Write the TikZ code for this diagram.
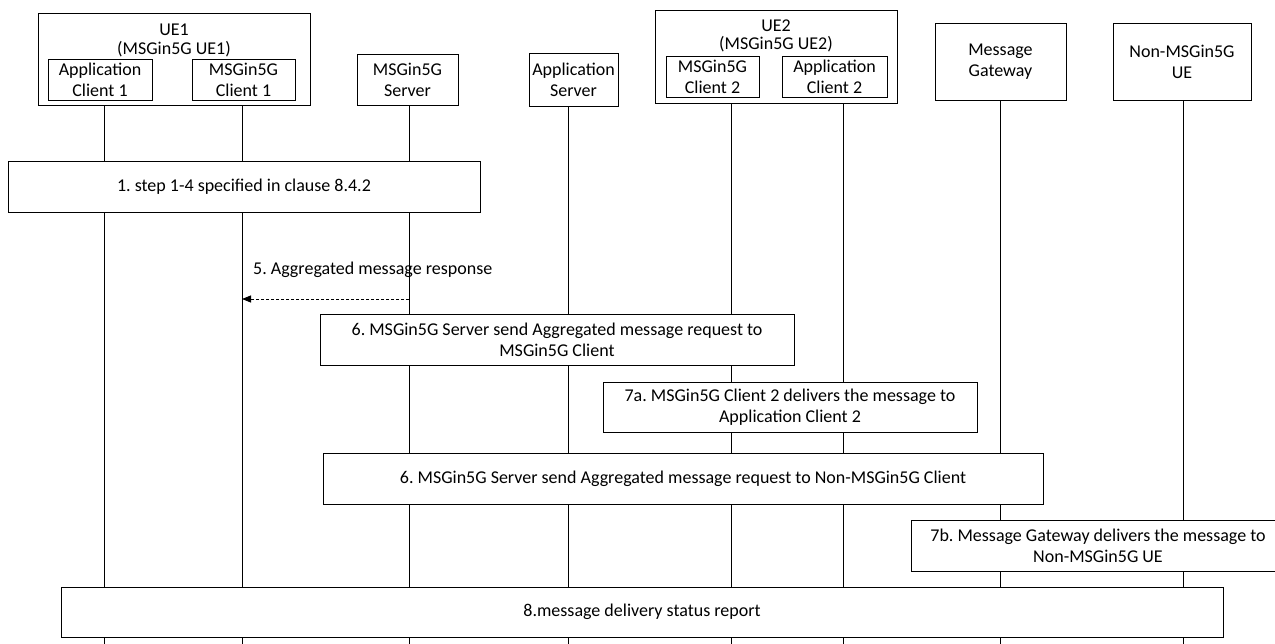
\documentclass[tikz,border=0pt]{standalone}
\usepackage{fontspec}
\setmainfont{Carlito}
\usetikzlibrary{arrows.meta}
\begin{document}
\frenchspacing
\begin{tikzpicture}[x=1pt,y=-1pt,
  txt/.style={font=\fontsize{18}{21}\selectfont, align=center, inner sep=0pt},
  box/.style={txt, draw, line width=0.9pt, fill=white},
  life/.style={line width=0.9pt},
  msg/.style={line width=0.8pt, dash pattern=on 3pt off 2pt, -{Triangle[length=9pt,width=7pt]}}]
\useasboundingbox (0,0) rectangle (1275,644);
% lifeline ends
\coordinate (e1) at (104,644);
\coordinate (e2) at (242,644);
\coordinate (e3) at (409,644);
\coordinate (e4) at (568,644);
\coordinate (e5) at (731,644);
\coordinate (e6) at (843,644);
\coordinate (e7) at (1000,644);
\coordinate (e8) at (1183,644);
% participants
\node[box, minimum width=272, minimum height=92] (ue1) at (174,59) {};
\node[txt, font=\fontsize{18}{18.5}\selectfont] (ue1t) at (174,40.5) {UE1\\(MSGin5G UE1)};
\node[box, minimum width=104, minimum height=41] (ac1) at (100,79.5) {Application\\Client 1};
\node[box, minimum width=103, minimum height=41] (mc1) at (243.5,79.5) {MSGin5G\\Client 1};
\node[box, minimum width=101, minimum height=51] (srv) at (407.5,79.5) {MSGin5G\\Server};
\node[box, minimum width=89, minimum height=53] (as) at (573.5,79.5) {Application\\Server};
\node[box, minimum width=242, minimum height=93] (ue2) at (776,56.5) {};
\node[txt, font=\fontsize{18}{18.5}\selectfont] (ue2t) at (776,36) {UE2\\(MSGin5G UE2)};
\node[box, minimum width=93, minimum height=41] (mc2) at (712.5,76.5) {MSGin5G\\Client 2};
\node[box, minimum width=105, minimum height=41] (ac2) at (834.5,76.5) {Application\\Client 2};
\node[box, minimum width=131, minimum height=77] (mg) at (1000.5,61.5) {Message\\Gateway};
\node[box, minimum width=138, minimum height=77] (nm) at (1182,61.5) {Non-MSGin5G\\UE};
% lifelines
\draw[life] (ue1.south -| e1) -- (e1);
\draw[life] (ue1.south -| e2) -- (e2);
\draw[life] (srv.south -| e3) -- (e3);
\draw[life] (as.south -| e4) -- (e4);
\draw[life] (ue2.south -| e5) -- (e5);
\draw[life] (ue2.south -| e6) -- (e6);
\draw[life] (mg.south -| e7) -- (e7);
\draw[life] (nm.south -| e8) -- (e8);
% steps
\node[box, minimum width=472, minimum height=51] (s1) at (244,186.5) {1. step 1-4 specified in clause 8.4.2};
\coordinate (a5s) at (409,299);
\coordinate (a5e) at (242,299);
\draw[msg] (a5s) -- (a5e);
\node[txt, anchor=west] (l5) at (253,270) {5. Aggregated message response};
\node[box, minimum width=474, minimum height=51] (s6a) at (557,339.5) {6. MSGin5G Server send Aggregated message request to\\MSGin5G Client};
\node[box, minimum width=374, minimum height=50] (s7a) at (790,407) {7a. MSGin5G Client 2 delivers the message to\\Application Client 2};
\node[box, minimum width=720, minimum height=51] (s6b) at (683,478.5) {6. MSGin5G Server send Aggregated message request to Non-MSGin5G Client};
\node[box, minimum width=374, minimum height=51] (s7b) at (1098,545.5) {7b. Message Gateway delivers the message to\\Non-MSGin5G UE};
\node[box, minimum width=1162, minimum height=50] (s8) at (642,612) {8.message delivery status report};
\end{tikzpicture}
\end{document}
